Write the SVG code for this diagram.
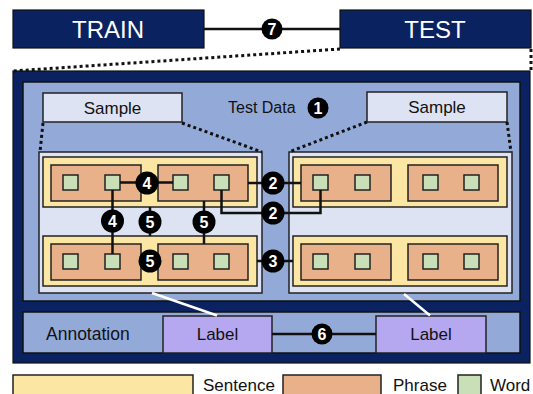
<svg xmlns="http://www.w3.org/2000/svg" width="533" height="394" viewBox="0 0 533 394">
<style>
text{font-family:"Liberation Sans",Arial,sans-serif;fill:#111}
.hdr{fill:#0b2260;stroke:#111;stroke-width:1.2}
.hdrt{fill:#fff;font-size:24px;text-anchor:middle}
.panel{fill:#93aad9;stroke:#111;stroke-width:1.5}
.sample{fill:#dde3f3;stroke:#222;stroke-width:1.5}
.cont{fill:#dde3f3;stroke:#222;stroke-width:1.5}
.sent{fill:#fbe6a3;stroke:#222;stroke-width:1.5}
.phr{fill:#e8b189;stroke:#222;stroke-width:1.5}
.word{fill:#c9dfb8;stroke:#222;stroke-width:1.5}
.lbl{fill:#b5a8f0;stroke:#222;stroke-width:1.5}
.t17{font-size:17px;text-anchor:middle}
.ln{stroke:#111;stroke-width:2.5;fill:none}
.dot{stroke:#111;stroke-width:3;stroke-dasharray:3 3;fill:none}
.wl{stroke:#fff;stroke-width:2.5}
.bc{fill:#000}
.bn{fill:#fff;font-size:16px;font-weight:bold;text-anchor:middle}
</style>
<defs>
<g id="sentence">
<rect class="sent" x="0" y="0" width="214" height="50"/>
<rect class="phr" x="8" y="8" width="90" height="36"/>
<rect class="phr" x="115" y="8" width="90" height="36"/>
<rect class="word" x="20" y="18" width="15" height="15"/>
<rect class="word" x="62" y="18" width="15" height="15"/>
<rect class="word" x="130" y="18" width="15" height="15"/>
<rect class="word" x="171" y="18" width="15" height="15"/>
</g>
</defs>

<g id="train">
<rect class="hdr" x="13" y="10" width="191" height="38"/>
<text class="hdrt" x="108" y="37.5">TRAIN</text>
</g>
<g id="test">
<rect class="hdr" x="340" y="10" width="191" height="38"/>
<text class="hdrt" x="435" y="37.5">TEST</text>
</g>

<g id="outer">
<rect x="13" y="71" width="517" height="292" fill="#0b2260" stroke="#111" stroke-width="1.2"/>
<rect class="panel" x="23" y="82" width="497" height="219"/>
<rect class="panel" x="23" y="312" width="497" height="41"/>
</g>

<g id="testdata">
<text x="228" y="113" style="font-size:16px">Test Data</text>
</g>

<g id="sample-left">
<rect class="sample" x="43" y="93" width="139" height="29"/>
<text class="t17" x="112.5" y="114">Sample</text>
</g>
<g id="sample-right">
<rect class="sample" x="367" y="92" width="140" height="30"/>
<text class="t17" x="437" y="113">Sample</text>
</g>

<g id="container-left">
<rect class="cont" x="39" y="152" width="223" height="141"/>
<use href="#sentence" x="43" y="157"/>
<use href="#sentence" x="43" y="236"/>
</g>
<g id="container-right">
<rect class="cont" x="289" y="152" width="223" height="141"/>
<use href="#sentence" x="293" y="157"/>
<use href="#sentence" x="293" y="236"/>
</g>

<g id="annotation">
<text x="46" y="340" style="font-size:17.5px">Annotation</text>
</g>
<g id="label-left">
<rect class="lbl" x="163" y="316" width="109" height="37"/>
<text class="t17" x="217.5" y="340">Label</text>
</g>
<g id="label-right">
<rect class="lbl" x="376" y="316" width="110" height="37"/>
<text class="t17" x="431" y="340">Label</text>
</g>

<g id="legend">
<rect class="sent" x="13" y="375" width="180" height="25"/>
<text x="203" y="391" style="font-size:17px">Sentence</text>
<rect class="phr" x="283" y="375" width="98" height="25"/>
<text x="393" y="391" style="font-size:17px">Phrase</text>
<rect class="word" x="458" y="375" width="23" height="25"/>
<text x="490" y="391" style="font-size:17px">Word</text>
</g>

<g id="connectors">
<line class="ln" x1="204" y1="29" x2="340" y2="29"/>
<path class="dot" d="M340 49 L13 71"/>
<path class="dot" d="M531 49 L531 71"/>
<path class="dot" d="M43 123 L40 152"/>
<path class="dot" d="M182 123 L262 152"/>
<path class="dot" d="M367 122 L289 152"/>
<path class="dot" d="M507 122 L511 152"/>
<line class="ln" x1="120" y1="182.5" x2="173" y2="182.5"/>
<line class="ln" x1="112.5" y1="190" x2="112.5" y2="254"/>
<line class="ln" x1="150" y1="207" x2="150" y2="236"/>
<line class="ln" x1="204" y1="201" x2="204" y2="244"/>
<line class="ln" x1="248" y1="183" x2="301" y2="183"/>
<path class="ln" d="M221.5 190 V213 H320.5 V190"/>
<line class="ln" x1="257" y1="261" x2="293" y2="261"/>
<line class="ln" x1="272" y1="334" x2="376" y2="334"/>
<line class="wl" x1="152" y1="293" x2="217" y2="315.5"/>
<line class="wl" x1="404" y1="294" x2="430" y2="315.5"/>
<g id="badges">
<circle class="bc" cx="272" cy="29" r="10.5"/><text class="bn" x="272" y="34.5">7</text>
<circle class="bc" cx="318" cy="108" r="10.5"/><text class="bn" x="318" y="113.5">1</text>
<circle class="bc" cx="147" cy="183" r="11.5"/><text class="bn" x="147" y="188.8">4</text>
<circle class="bc" cx="112.5" cy="221" r="11.5"/><text class="bn" x="112.5" y="226.8">4</text>
<circle class="bc" cx="150" cy="222" r="11.5"/><text class="bn" x="150" y="227.8">5</text>
<circle class="bc" cx="204" cy="222" r="11.5"/><text class="bn" x="204" y="227.8">5</text>
<circle class="bc" cx="150" cy="261" r="11.5"/><text class="bn" x="150" y="266.8">5</text>
<circle class="bc" cx="273" cy="183" r="11.5"/><text class="bn" x="273" y="188.8">2</text>
<circle class="bc" cx="273" cy="213" r="11.5"/><text class="bn" x="273" y="218.8">2</text>
<circle class="bc" cx="273" cy="261" r="11.5"/><text class="bn" x="273" y="266.8">3</text>
<circle class="bc" cx="322" cy="334" r="10.5"/><text class="bn" x="322" y="339.5">6</text>
</g>
</g>
</svg>
